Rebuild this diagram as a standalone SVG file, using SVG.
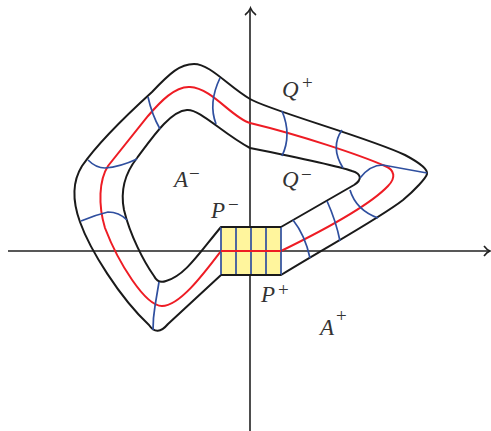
<svg xmlns="http://www.w3.org/2000/svg" width="491" height="431" viewBox="0 0 491 431">
<style>
.ax{fill:none;stroke:#222;stroke-width:1.6}
.bd{fill:none;stroke:#1a1a1a;stroke-width:2;stroke-linejoin:round}
.rd{fill:none;stroke:#ee1c24;stroke-width:2}
.bl{fill:none;stroke:#2f4f9f;stroke-width:1.7}
.lb{font-family:"Liberation Serif","DejaVu Serif",serif;font-style:italic;font-size:23px;fill:#333}
.sp{font-family:"Liberation Serif","DejaVu Serif",serif;font-style:normal;font-size:19px;fill:#333}
</style>
<rect width="491" height="431" fill="#fff"/>
<g id="axes">
<path class="ax" d="M250,431 V9 M8,251 H489"/>
<path class="ax" d="M245,15 Q249,12 250.5,8 Q252,12 256,15"/>
<path class="ax" d="M484,246 Q487,250 490,251 Q487,252 484,256"/>
</g>
<g id="connectors">
<path id="outer" class="bd" d="M221,275 L168,324 Q157,337 149,325 C120,298 90,250 80,222 C72,200 72,182 82,166 C100,140 130,112 152,92 C170,73 180,64 194,64 C210,64 228,86 250,99 C268,110 370,138 405,155 C420,163 428,170 427,174 C426,178 415,190 403,200 C380,218 330,245 281,275 Z"/>
<path id="inner" class="bd" d="M221,227 C200,252 185,276 166,281 Q158,284 154,276 C144,262 130,235 124,210 C120,190 126,172 137,158 C152,138 170,111 187,110 C200,109 222,133 250,148 C290,156 335,165 352,171 C362,174 362,180 354,185 L281,227 Z"/>
<path id="mid" class="rd" d="M221,251 L281,251 C320,232 370,205 388,186 C396,178 395,170 385,166 C360,155 300,135 250,123 C232,118 212,88 190,87 C175,86 160,102 148,116 L108,166 C99,180 98,205 105,228 C118,262 145,306 162,306 C180,306 205,272 221,251"/>
<path class="bl" d="M220,78 Q208,103 216,124"/>
<path class="bl" d="M148,97 Q152,115 160,129"/>
<path class="bl" d="M88,160 Q96,168 105,168 Q120,167 137,159"/>
<path class="bl" d="M81,221 Q95,215 108,212 Q119,212 127,220"/>
<path class="bl" d="M159,282 Q156,300 155,306 Q153,318 153,330"/>
<path class="bl" d="M282,111 Q292,135 282,156"/>
<path class="bl" d="M342,130 Q330,147 343,168"/>
<path class="bl" d="M427,173 L383,165 Q370,165 360,178"/>
<path class="bl" d="M350,190 Q356,210 378,218"/>
<path class="bl" d="M327,201 Q336,221 340,241"/>
<path class="bl" d="M293,220 Q305,235 310,258"/>
</g>
<g id="box">
<rect x="221" y="227" width="60" height="48" fill="#fff59d"/>
<path class="bl" d="M221,227 V275 M236,227 V275 M251,227 V275 M266,227 V275 M281,227 V275"/>
<path class="rd" d="M221,251 H281"/>
<path class="bd" d="M221,227 H281 M221,275 H281"/>
</g>
<g id="labels">
<text class="lb" x="282" y="97">Q</text><text class="sp" x="302" y="89">+</text>
<text class="lb" x="282" y="187">Q</text><text class="sp" x="301" y="180.5">−</text>
<text class="lb" x="174" y="187">A</text><text class="sp" x="189" y="179.5">−</text>
<text class="lb" x="211" y="218">P</text><text class="sp" x="228" y="210.5">−</text>
<text class="lb" x="261" y="302">P</text><text class="sp" x="278" y="296">+</text>
<text class="lb" x="320" y="335">A</text><text class="sp" x="336" y="322">+</text>
</g>
</svg>
